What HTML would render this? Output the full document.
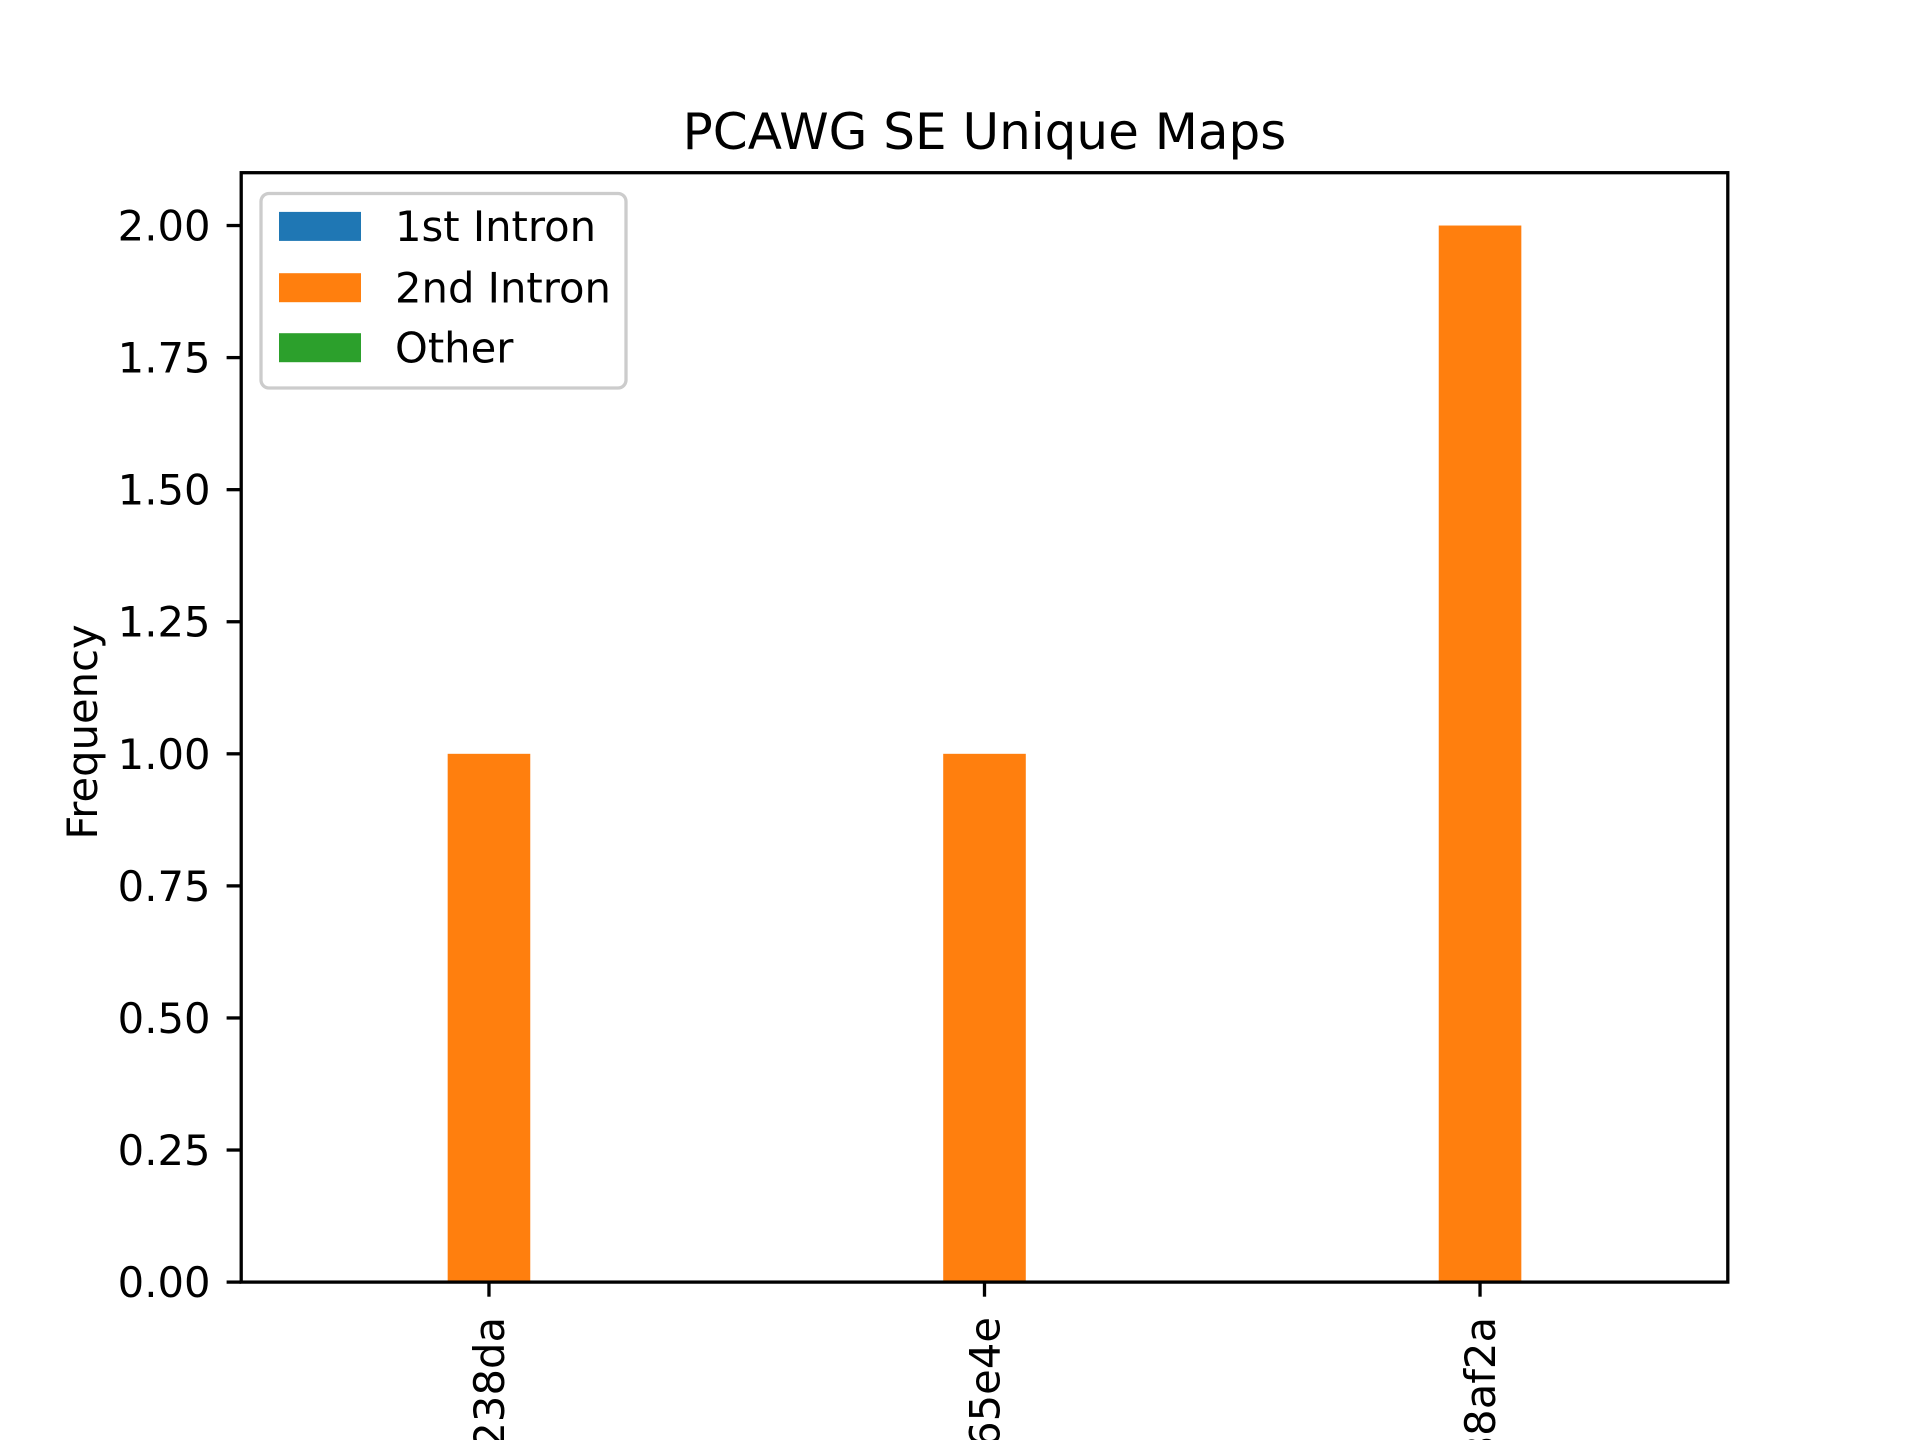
<!DOCTYPE html>
<html><head><meta charset="utf-8"><style>
html,body{margin:0;padding:0;background:#fff;width:1920px;height:1440px;overflow:hidden}
svg{display:block;overflow:hidden}
svg text{font-family:"DejaVu Sans","Liberation Sans",sans-serif;fill:#000}
</style></head><body>
<svg id="chart" width="1920" height="1440" viewBox="0 0 1920 1440" xmlns="http://www.w3.org/2000/svg">
<defs><clipPath id="frameclip"><rect x="0" y="0" width="1920" height="1440"/></clipPath></defs>
<rect width="1920" height="1440" fill="#fff"/>
<text x="984.5" y="149" font-size="50" text-anchor="middle">PCAWG SE Unique Maps</text>
<g id="plot" clip-path="url(#frameclip)"></g>
</svg>
<script>
const categories = ["DO12345_8f2a1238da", "DO23456_b7c965e4e", "DO34567_4e188af2a"];
const seriesNames = ["1st Intron", "2nd Intron", "Other"];
const seriesColors = ["#1f77b4", "#ff7f0e", "#2ca02c"];
const intron1 = [0, 0, 0];
const intron2 = [1, 1, 2];
const other = [0, 0, 0];
const yTicks = [0, 0.25, 0.5, 0.75, 1.0, 1.25, 1.5, 1.75, 2.0];
const yTickLabels = ["0.00", "0.25", "0.50", "0.75", "1.00", "1.25", "1.50", "1.75", "2.00"];

const NS = "http://www.w3.org/2000/svg";
const g = document.getElementById('plot');
const L = 241.2, R = 1727.8, T = 172.7, B = 1282.1;
const xMin = -0.5, xMax = 2.5, yMin = 0, yMax = 2.1;
const xs = v => L + (v - xMin) / (xMax - xMin) * (R - L);
const ys = v => B - (v - yMin) / (yMax - yMin) * (B - T);
function mk(tag, attrs) { const e = document.createElementNS(NS, tag); for (const k in attrs) e.setAttribute(k, attrs[k]); g.appendChild(e); return e; }

const series = [intron1, intron2, other];
const bw = 1 / 6;
series.forEach((vals, si) => {
  vals.forEach((v, ci) => {
    const x0 = ci + (si - 1) * bw - bw / 2;
    const r = mk('rect', { x: xs(x0), y: ys(v), width: xs(x0 + bw) - xs(x0), height: ys(0) - ys(v), fill: seriesColors[si] });
    
    
  });
});

const frame = mk('rect', { x: L, y: T, width: R - L, height: B - T, fill: 'none', stroke: '#000', 'stroke-width': 3.3 });



yTicks.forEach((v, i) => {
  const y = ys(v);
  const t = mk('line', { x1: L, x2: L - 14.6, y1: y, y2: y, stroke: '#000', 'stroke-width': 3.3 });
  
  
  const tx = mk('text', { x: 210.5, y: y + 15, 'font-size': 41.7, 'text-anchor': 'end' });
  tx.textContent = yTickLabels[i];
  
  
});

categories.forEach((c, i) => {
  const x = xs(i);
  const t = mk('line', { x1: x, x2: x, y1: B, y2: B + 14.6, stroke: '#000', 'stroke-width': 3.3 });
  
  
  const tx = mk('text', { x: 0, y: 0, 'font-size': 41.7, 'text-anchor': 'end', transform: `translate(${x + 15},1317) rotate(-90)` });
  tx.textContent = c;
  
  
});

const yl = mk('text', { x: 0, y: 0, 'font-size': 41.7, 'text-anchor': 'middle', transform: 'translate(97,732) rotate(-90)' });
yl.textContent = 'Frequency';



const lg = mk('rect', { x: 261, y: 193.5, width: 365, height: 194.5, rx: 8, fill: '#fff', 'fill-opacity': 0.8, stroke: '#ccc', 'stroke-width': 3.3 });


const ly = [226.5, 287.8, 347.8];
seriesNames.forEach((n, i) => {
  const p = mk('rect', { x: 279, y: ly[i] - 14.6, width: 82, height: 29, fill: seriesColors[i] });
  
  
  const t = mk('text', { x: 395, y: ly[i] + 14.5, 'font-size': 41.7 });
  t.textContent = n;
  
  
});
</script>
</body></html>
